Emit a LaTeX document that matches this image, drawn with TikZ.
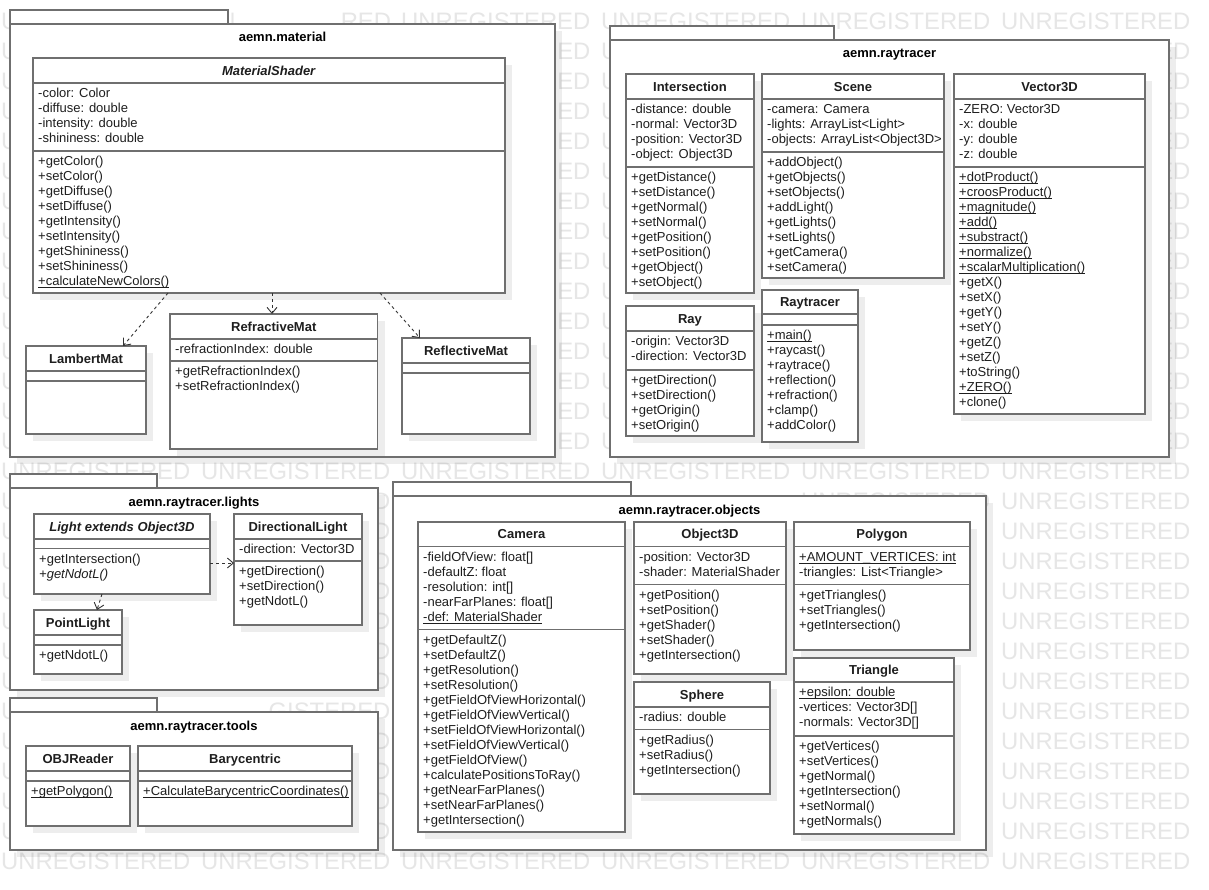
\documentclass[tikz,border=0pt]{standalone}
\usepackage{fontspec}
\setmainfont{Liberation Sans}
\usepackage{xcolor}
\usepackage{tikz}
\usetikzlibrary{arrows.meta,positioning,calc,shadows}

\definecolor{linegray}{HTML}{6F6F6F}
\definecolor{wmgray}{HTML}{E6E6E6}
\definecolor{txt}{HTML}{1E1E1E}

\newcommand{\static}[1]{\setbox0=\hbox{#1}\rlap{\rule[-2.2pt]{\wd0}{0.9pt}}\box0}

% #1 name, #2 top left, #3 width, #4 height, #5 header, #6 attribute box, #7 title, #8 attributes, #9 operations
\newcommand{\umlclass}[9]{%
  \node[cls, minimum width=#3pt, minimum height=#4pt] (#1) at #2 {};
  \node[clsname] (#1-name) at ($(#1.north)+(0,#5/2+4.6)$) {#7};
  \draw[sepline] ($(#1.north west)+(0,#5)$) -- ($(#1.north east)+(0,#5)$);
  \draw[sepline] ($(#1.north west)+(0,#5+#6)$) -- ($(#1.north east)+(0,#5+#6)$);
  \node[members] (#1-attr) at ($(#1.north west)+(5,#5+4.2)$) {\strut#8};
  \node[members] (#1-ops) at ($(#1.north west)+(5,#5+#6+4.2)$) {\strut#9};
}

% #1 name, #2 top left of body, #3 width, #4 height, #5 tab width, #6 title
\newcommand{\umlpkg}[6]{%
  \node[pkg, minimum width=#3pt, minimum height=#4pt] (#1) at #2 {};
  \node[pkgtab, minimum width=#5pt, minimum height=14pt] (#1-tab) at (#1.north west) {};
  \node[pkgname] (#1-name) at ($(#1.north)+(0,18)$) {#6};
}

\begin{document}
\begin{tikzpicture}[
  x=1pt, y=-1pt,
  cls/.style={draw=linegray, line width=1.3pt, fill=white, anchor=north west, inner sep=0pt, outer sep=0pt,
    drop shadow={shadow xshift=7pt, shadow yshift=-7pt, fill=black, opacity=0.07}},
  pkg/.style={cls},
  pkgtab/.style={draw=linegray, line width=1.3pt, fill=white, anchor=south west, inner sep=0pt, outer sep=0pt},
  clsname/.style={font={\fontsize{13}{15}\selectfont\bfseries}, text=txt, inner sep=0pt, anchor=base},
  pkgname/.style={clsname, text=black},
  members/.style={font={\fontsize{13}{15}\selectfont}, text=txt, align=left, anchor=north west, inner sep=0pt},
  sepline/.style={draw=linegray, line width=1.3pt},
  dep/.style={draw=black!80, line width=0.9pt, dash pattern=on 3pt off 3pt, -{Straight Barb[length=6pt,width=10pt]}},
  wmark/.style={text=wmgray, font={\fontsize{23.8}{24}\selectfont}, anchor=west, inner sep=0pt}
]
\useasboundingbox[fill=white] (0,0) rectangle (1209,890);

% watermark, only where the packages leave it visible
\node[wmark] (wm0-0) at (1,21.7) {U};
\node[wmark] (wm0-1) at (201,21.7) {UN};
\node[wmark] (wm0-1b) at (340.6,21.7) {RED};
\foreach \c in {2,...,5}
  \node[wmark] (wm0-\c) at (1+200*\c,21.7) {UNREGISTERED};
\foreach \r in {1,...,14} {
  \node[wmark] (wm\r-0) at (1,21.7+30*\r) {U};
  \node[wmark] (wm\r-2) at (539.9,21.7+30*\r) {RED};
  \node[wmark] (wm\r-3) at (601,21.7+30*\r) {U};
  \node[wmark] (wm\r-5) at (1157.1,21.7+30*\r) {ED};
}
\foreach \r in {15,28}
  \foreach \c in {0,...,5}
    \node[wmark] (wm\r-\c) at (1+200*\c,21.7+30*\r) {UNREGISTERED};
\foreach \r in {16,...,27}
  \node[wmark] (wm\r-5) at (1001,21.7+30*\r) {UNREGISTERED};
\foreach \r in {16,...,22,24,25,26,27} {
  \node[wmark] (wm\r-0) at (1,21.7+30*\r) {U};
  \node[wmark] (wm\r-1) at (373,21.7+30*\r) {D};
}
\node[wmark] (wm16-4) at (801,501.7) {UNREGISTERED};
\node[wmark] (wm23-0) at (1,711.7) {U};
\node[wmark] (wm23-1) at (268.5,711.7) {GISTERED};

\umlpkg{pmat}{(10,24)}{545}{433}{218}{aemn.material}
\umlpkg{prt}{(610,40)}{559}{417}{224}{aemn.raytracer}
\umlpkg{plights}{(10,488)}{368}{202}{147}{aemn.raytracer.lights}
\umlpkg{ptools}{(10,712)}{368}{138}{147}{aemn.raytracer.tools}
\umlpkg{pobj}{(393,496)}{593}{354}{238}{aemn.raytracer.objects}

\umlclass{shader}{(33,58)}{472}{235}{25}{68}{\textit{MaterialShader}}
  {-color: Color\\-diffuse: double\\-intensity: double\\-shininess: double}
  {+getColor()\\+setColor()\\+getDiffuse()\\+setDiffuse()\\+getIntensity()\\+setIntensity()\\+getShininess()\\+setShininess()\\\static{+calculateNewColors()}}
\umlclass{lambert}{(26,346)}{120}{88}{25}{10}{LambertMat}{}{}
\umlclass{refr}{(170,314)}{207.5}{135}{25}{22}{RefractiveMat}
  {-refractionIndex: double}
  {+getRefractionIndex()\\+setRefractionIndex()}
\umlclass{refl}{(402,338)}{128}{96}{25}{10}{ReflectiveMat}{}{}

\umlclass{inter}{(626,74)}{128}{219}{25}{68}{Intersection}
  {-distance: double\\-normal: Vector3D\\-position: Vector3D\\-object: Object3D}
  {+getDistance()\\+setDistance()\\+getNormal()\\+setNormal()\\+getPosition()\\+setPosition()\\+getObject()\\+setObject()}
\umlclass{scene}{(762,74)}{182}{204}{25}{53}{Scene}
  {-camera: Camera\\-lights: ArrayList<Light>\\-objects: ArrayList<Object3D>}
  {+addObject()\\+getObjects()\\+setObjects()\\+addLight()\\+getLights()\\+setLights()\\+getCamera()\\+setCamera()}
\umlclass{vec}{(954,74)}{191}{340}{25}{68}{Vector3D}
  {-ZERO: Vector3D\\-x: double\\-y: double\\-z: double}
  {\static{+dotProduct()}\\\static{+croosProduct()}\\\static{+magnitude()}\\\static{+add()}\\\static{+substract()}\\\static{+normalize()}\\\static{+scalarMultiplication()}\\+getX()\\+setX()\\+getY()\\+setY()\\+getZ()\\+setZ()\\+toString()\\\static{+ZERO()}\\+clone()}
\umlclass{ray}{(626,306)}{128}{130}{25}{39}{Ray}
  {-origin: Vector3D\\-direction: Vector3D}
  {+getDirection()\\+setDirection()\\+getOrigin()\\+setOrigin()}
\umlclass{rt}{(762,290)}{96}{152}{24}{11}{Raytracer}{}
  {\static{+main()}\\+raycast()\\+raytrace()\\+reflection()\\+refraction()\\+clamp()\\+addColor()}

\umlclass{light}{(34,514)}{176}{80}{25}{9.5}{\textit{Light extends Object3D}}{}
  {+getIntersection()\\\textit{+getNdotL()}}
\umlclass{dir}{(234,514)}{128}{111}{25}{22}{DirectionalLight}
  {-direction: Vector3D}
  {+getDirection()\\+setDirection()\\+getNdotL()}
\umlclass{point}{(34,610)}{88}{64}{25}{10}{PointLight}{}{+getNdotL()}

\umlclass{objr}{(26,746)}{104}{80}{25}{10}{OBJReader}{}{\static{+getPolygon()}}
\umlclass{bary}{(138,746)}{214}{80}{25}{10}{Barycentric}{}{\static{+CalculateBarycentricCoordinates()}}

\umlclass{camera}{(418,522)}{207}{310}{24.5}{83}{Camera}
  {-fieldOfView: float[]\\-defaultZ: float\\-resolution: int[]\\-nearFarPlanes: float[]\\\static{-def: MaterialShader}}
  {+getDefaultZ()\\+setDefaultZ()\\+getResolution()\\+setResolution()\\+getFieldOfViewHorizontal()\\+getFieldOfViewVertical()\\+setFieldOfViewHorizontal()\\+setFieldOfViewVertical()\\+getFieldOfView()\\+calculatePositionsToRay()\\+getNearFarPlanes()\\+setNearFarPlanes()\\+getIntersection()}
\umlclass{obj3d}{(634,522)}{152}{152}{24.5}{38}{Object3D}
  {-position: Vector3D\\-shader: MaterialShader}
  {+getPosition()\\+setPosition()\\+getShader()\\+setShader()\\+getIntersection()}
\umlclass{sphere}{(634,682)}{136}{112}{25}{22.5}{Sphere}
  {-radius: double}
  {+getRadius()\\+setRadius()\\+getIntersection()}
\umlclass{poly}{(794,522)}{176}{128}{24.5}{38}{Polygon}
  {\static{+AMOUNT\_VERTICES: int}\\-triangles: List<Triangle>}
  {+getTriangles()\\+setTriangles()\\+getIntersection()}
\umlclass{tri}{(794,658)}{160}{176}{24}{54}{Triangle}
  {\static{+epsilon: double}\\-vertices: Vector3D[]\\-normals: Vector3D[]}
  {+getVertices()\\+setVertices()\\+getNormal()\\+getIntersection()\\+setNormal()\\+getNormals()}

\draw[dep] ($(shader.south west)+(135,0)$) -- ($(lambert.north west)+(97,0)$);
\draw[dep] ($(shader.south west)+(239,0)$) -- ($(refr.north west)+(102,0)$);
\draw[dep] ($(shader.south west)+(347,0)$) -- ($(refl.north west)+(18,0)$);
\draw[dep] ($(light.north east)+(0,49)$) -- ($(dir.north west)+(0,49)$);
\draw[dep] ($(light.south west)+(68,0)$) -- ($(point.north west)+(63,0)$);
\end{tikzpicture}
\end{document}
